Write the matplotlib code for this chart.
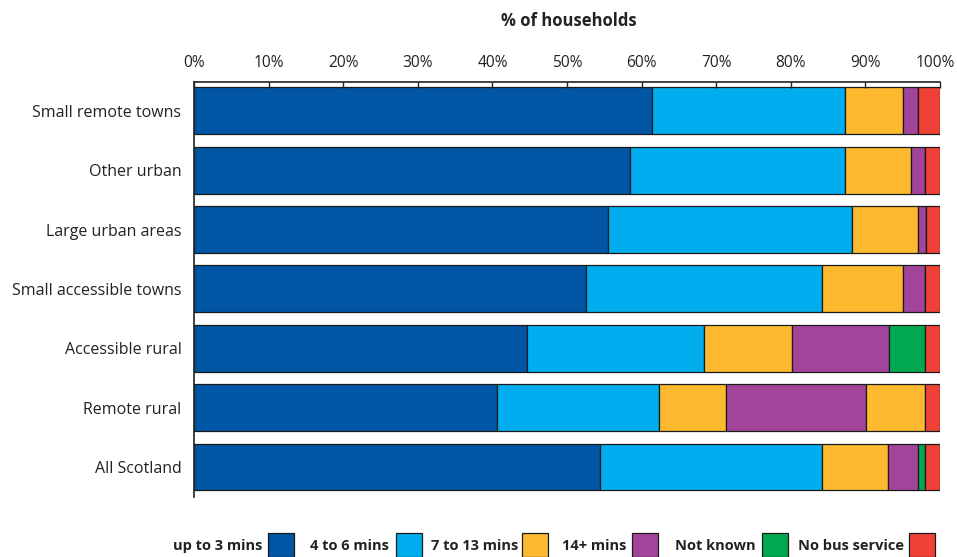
import numpy as np
import matplotlib.pyplot as plt
import matplotlib.transforms as mtransforms
from matplotlib.patches import Rectangle

plt.rcParams['font.family'] = ['Open Sans', 'DejaVu Sans']

# Bus frequency bands by urban/rural classification (% of households)
areas = ['Small remote towns', 'Other urban', 'Large urban areas',
         'Small accessible towns', 'Accessible rural', 'Remote rural', 'All Scotland']
bands = ['up to 3 mins', '4 to 6 mins', '7 to 13 mins', '14+ mins',
         'Not known', 'No bus service']

up_to_3 = [61.4, 58.5, 55.5, 52.5, 44.6, 40.6, 54.4]
mins_4_6 = [25.8, 28.7, 32.7, 31.7, 23.7, 21.7, 29.8]
mins_7_13 = [7.9, 8.9, 8.9, 10.9, 11.9, 9.0, 8.8]
mins_14 = [2.0, 1.9, 1.0, 2.9, 12.9, 18.8, 4.1]
not_known = [0.0, 0.0, 0.0, 0.0, 4.9, 7.9, 0.9]
no_service = [2.9, 2.0, 1.9, 2.0, 2.0, 2.0, 2.0]

series = [up_to_3, mins_4_6, mins_7_13, mins_14, not_known, no_service]
colors = ['#0055A5', '#00AEEF', '#FDB92F', '#A2459A', '#00A94F', '#EF4136']
# the remote rural 'not known' block is shaded like the 14+ band
row_override = {('Remote rural', 4): '#FDB92F'}

fig = plt.figure(figsize=(9.57, 5.57), dpi=100)
ax = fig.add_axes([194 / 957, 60 / 557, 746 / 957, 415 / 557])

y = np.arange(len(areas))
left = np.zeros(len(areas))
for i, vals in enumerate(series):
    vals = np.array(vals)
    cols = [row_override.get((a, i), colors[i]) for a in areas]
    ax.barh(y, vals, left=left, height=0.79, color=cols,
            edgecolor='#1a1a1a', linewidth=0.9)
    left += vals

ax.set_xlim(0, 100)
ax.set_ylim(6.505, -0.485)
ax.set_yticks(y)
ax.set_yticklabels(areas, fontsize=11.5, color='#222222')
ax.tick_params(axis='y', length=0, pad=9)

ax.xaxis.tick_top()
ax.set_xticks(np.arange(0, 101, 10))
ax.set_xticklabels([f'{v}%' for v in range(0, 101, 10)], fontsize=11.2, color='#222222')
ax.tick_params(axis='x', direction='in', length=4, width=1, color='#222222', pad=8)
# nudge the last label so it stays inside the canvas
last = ax.get_xticklabels()[-1]
last.set_transform(last.get_transform() +
                   mtransforms.ScaledTranslation(-5 / 100, 0, fig.dpi_scale_trans))

for side in ['right', 'bottom']:
    ax.spines[side].set_visible(False)
for side in ['top', 'left']:
    ax.spines[side].set_linewidth(1.2)
    ax.spines[side].set_color('#222222')

fig.text(569 / 957, 1 - 21 / 557, '% of households', ha='center', va='center',
         fontsize=12, fontweight='bold', color='#222222')

# legend: bold label followed by a colour box
text_end = [262, 389, 518, 626, 756, 904]
box_left = [268, 396, 522, 632, 762, 909]
for lab, col, te, bl in zip(bands, colors, text_end, box_left):
    fig.text(te / 957, 1 - 546 / 557, lab, ha='right', va='center',
             fontsize=10.5, fontweight='bold', color='#222222')
    fig.patches.append(Rectangle((bl / 957, 0), 26 / 957, 24 / 557,
                                 transform=fig.transFigure, facecolor=col,
                                 edgecolor='#1a1a1a', linewidth=0.9))

fig.savefig('out.png', dpi=100)
